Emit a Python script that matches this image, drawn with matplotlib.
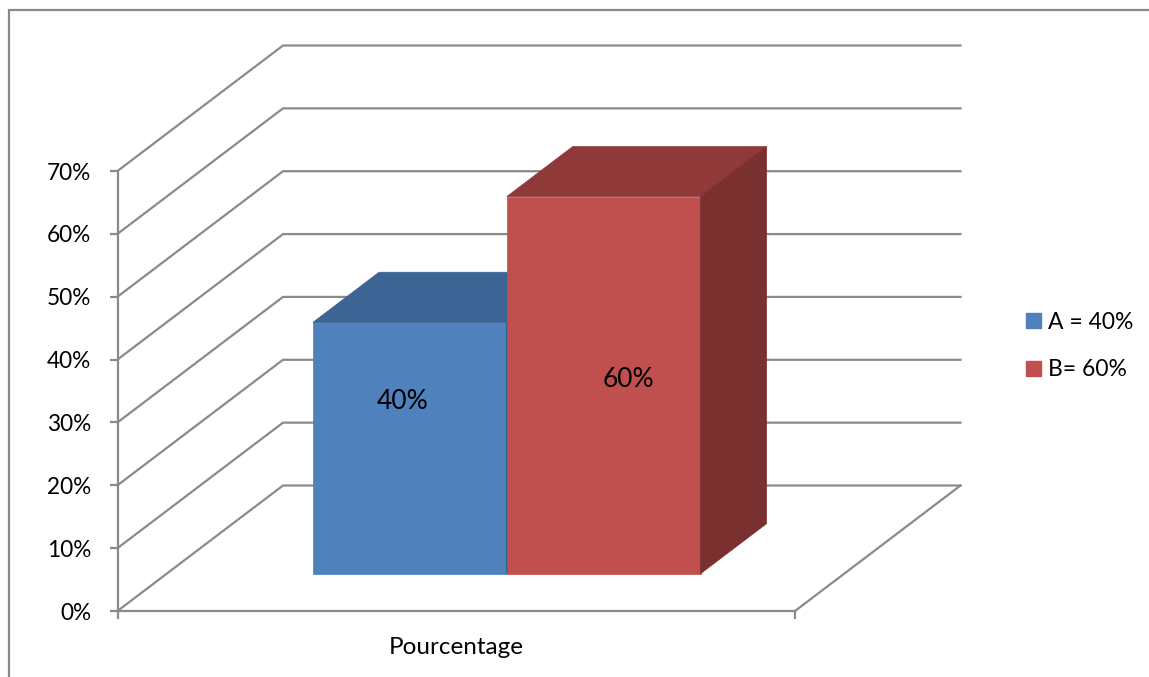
import matplotlib
matplotlib.use("Agg")
import matplotlib.pyplot as plt
from matplotlib.lines import Line2D
from matplotlib.patches import Patch, Polygon

categories = ["A = 40%", "B= 60%"]
values = [40, 60]
value_labels = ["40%", "60%"]
axis_label = "Pourcentage"
y_ticks = [0, 10, 20, 30, 40, 50, 60, 70]
y_tick_labels = ["0%", "10%", "20%", "30%", "40%", "50%", "60%", "70%"]

front_colors = ["#4F81BD", "#C0504D"]
top_colors = ["#3C6494", "#8F3A38"]
side_colors = ["#335680", "#7A302E"]
GRID = "#8A8A8A"
LW = 1.6

W, H = 1149, 677
plt.rcParams["font.family"] = ["Lato", "DejaVu Sans"]
fig = plt.figure(figsize=(W / 100, H / 100), dpi=100, facecolor="white")

# The axes rectangle is the front plane of the 3D box.
left, right, y0, y70 = 117.5, 795.0, 611.0, 171.0
ax = fig.add_axes([left / W, 1 - y0 / H, (right - left) / W, (y0 - y70) / H])
ax.set_xlim(0, 1)
ax.set_ylim(0, 70)
ax.patch.set_visible(False)

# Shift of a point when it moves from the front plane to the back wall.
DEPTH_X = 165.5 / (right - left)
DEPTH_Y = 125.5 / ((y0 - y70) / 70)


def project(x, value, depth):
    return (x + DEPTH_X * depth, value + DEPTH_Y * depth)


def face(points, color, z):
    ax.add_patch(Polygon(points, closed=True, facecolor=color, edgecolor=color,
                         linewidth=0.5, clip_on=False, zorder=z))


# Back wall gridlines and the slanted side wall lines.
for v in y_ticks:
    xs, ys = zip(project(0, v, 0), project(0, v, 1), project(1, v, 1))
    ax.plot(xs, ys, color=GRID, lw=LW, clip_on=False, zorder=1,
            solid_joinstyle="miter")
xs, ys = zip(project(1, 0, 0), project(1, 0, 1))
ax.plot(xs, ys, color=GRID, lw=LW, clip_on=False, zorder=1)

# Three faces for each bar, with its value label shifted off the face centre.
bar_edges = [0.216, 0.502, 0.788]
d_front, d_back = 0.297, 0.696
label_shifts = [(-7, 47), (25, 6)]
for i, v in enumerate(values):
    x0, x1 = bar_edges[i], bar_edges[i + 1]
    face([project(x0, 0, d_front), project(x1, 0, d_front),
          project(x1, v, d_front), project(x0, v, d_front)], front_colors[i], 3 + i)
    face([project(x0, v, d_front), project(x1, v, d_front),
          project(x1, v, d_back), project(x0, v, d_back)], top_colors[i], 3 + i)
    face([project(x1, 0, d_front), project(x1, 0, d_back),
          project(x1, v, d_back), project(x1, v, d_front)], side_colors[i], 3 + i)
    ax.annotate(value_labels[i], project((x0 + x1) / 2, v * 0.5, d_front),
                xytext=label_shifts[i], textcoords="offset pixels",
                ha="center", va="center", fontsize=19, color="black", zorder=10)

# Axes: real ticks sit on the front plane.
for name in ("top", "right"):
    ax.spines[name].set_visible(False)
for name in ("left", "bottom"):
    ax.spines[name].set_color(GRID)
    ax.spines[name].set_linewidth(LW)
ax.set_yticks(y_ticks, y_tick_labels)
ax.set_xticks([0, 1], ["", ""])
ax.tick_params(axis="both", color=GRID, width=LW, length=6, labelsize=16.3,
               labelcolor="black")
ax.tick_params(axis="y", pad=13)
ax.set_xlabel(axis_label, fontsize=17.5, color="black", labelpad=9)

# Outer chart border: only the top and left sides fall inside the canvas.
fig.add_artist(Line2D([9 / W, 9 / W, 1], [0, 1 - 10 / H, 1 - 10 / H],
                      color=GRID, lw=LW, solid_joinstyle="miter"))

handles = [Patch(facecolor=c, edgecolor=c, label=n)
           for c, n in zip(front_colors, categories)]
fig.legend(handles=handles, loc="center left", frameon=False,
           bbox_to_anchor=(1026 / W, 1 - 346 / H), borderaxespad=0, borderpad=0,
           fontsize=16.5, handlelength=0.65, handleheight=0.65,
           handletextpad=0.3, labelspacing=1.17, labelcolor="black")

fig.savefig("out.png", dpi=100, facecolor="white")
